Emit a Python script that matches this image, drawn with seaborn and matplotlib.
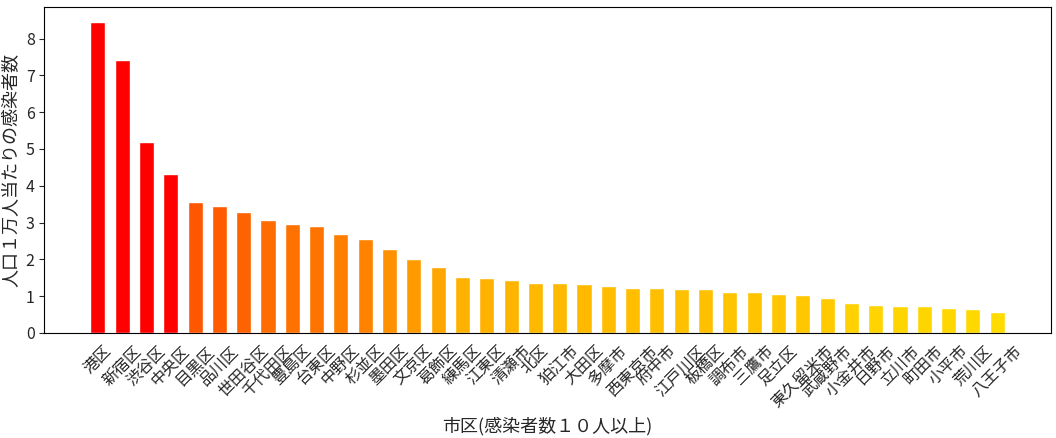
import matplotlib
matplotlib.use("Agg")
import matplotlib.pyplot as plt
import seaborn as sns
import numpy as np

names = ["港区","新宿区","渋谷区","中央区","目黒区","品川区","世田谷区","千代田区","豊島区","台東区",
         "中野区","杉並区","墨田区","文京区","葛飾区","練馬区","江東区","清瀬市","北区","狛江市",
         "大田区","多摩市","西東京市","府中市","江戸川区","板橋区","調布市","三鷹市","足立区","東久留米市",
         "武蔵野市","小金井市","日野市","立川市","町田市","小平市","荒川区","八王子市"]
values = [8.45,7.42,5.18,4.32,3.57,3.46,3.30,3.08,2.95,2.90,
          2.68,2.55,2.27,2.02,1.78,1.53,1.48,1.45,1.35,1.35,
          1.33,1.28,1.23,1.22,1.20,1.20,1.10,1.10,1.05,1.04,
          0.96,0.80,0.75,0.72,0.72,0.68,0.65,0.58]

v = np.array(values)
g = np.clip(0.86 - 0.175 * (v - 0.58), 0, 1)
g[v > 4] = 0.0
colors = [(1.0, gi, 0.0) for gi in g]

sns.set_style("white")
plt.rcParams['font.family'] = ['Noto Sans CJK JP', 'DejaVu Sans']
fig, ax = plt.subplots(figsize=(10.56, 4.38), dpi=100)
sns.barplot(x=names, y=values, palette=colors, hue=names, legend=False, ax=ax, width=0.62, saturation=1)
ax.set_xlabel("市区(感染者数１０人以上)", fontsize=13)
ax.set_ylabel("人口１万人当たりの感染者数", fontsize=13)
ax.tick_params(axis='x', labelrotation=45, labelsize=11.5)
ax.tick_params(axis='y', labelsize=11.5, left=True)
ax.set_xlim(-2.2, len(names) + 1.2)
for s in ax.spines.values():
    s.set_color('black'); s.set_linewidth(0.8)
plt.subplots_adjust(left=0.042, right=0.995, top=0.985, bottom=0.24)
fig.savefig("out.png", dpi=100)
